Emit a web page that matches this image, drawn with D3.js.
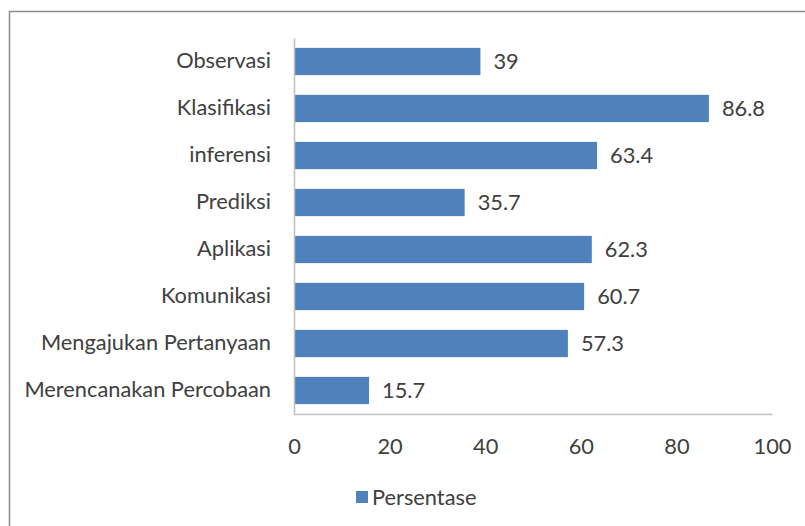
<!DOCTYPE html>
<html>
<head>
<meta charset="utf-8">
<script src="https://cdn.jsdelivr.net/npm/d3@7"></script>
<style>
  body { margin: 0; background: #fff; }
  text { font-family: Lato, "Open Sans", sans-serif; fill: #404040; }
</style>
</head>
<body>
<script>
// Data
var categories = ["Observasi", "Klasifikasi", "inferensi", "Prediksi", "Aplikasi",
  "Komunikasi", "Mengajukan Pertanyaan", "Merencanakan Percobaan"];
var persentase = [39, 86.8, 63.4, 35.7, 62.3, 60.7, 57.3, 15.7];
var xTicks = [0, 20, 40, 60, 80, 100];
var seriesName = "Persentase";

var svgWidth = 805;
var svgHeight = 526;
var fontSize = "21.8px";

var margin = { top: 38, right: 33, bottom: 112, left: 294 };
var chartWidth = svgWidth - margin.left - margin.right;
var chartHeight = svgHeight - margin.top - margin.bottom;

var svg = d3.select("body")
    .append("svg")
    .attr("width", svgWidth)
    .attr("height", svgHeight);

// outer frame (runs off the right and bottom edge)
svg.append("rect")
    .attr("x", 9.5)
    .attr("y", 11.5)
    .attr("width", svgWidth + 10)
    .attr("height", svgHeight + 10)
    .attr("fill", "none")
    .attr("stroke", "#8c8c8c")
    .attr("stroke-width", 1.5);

var chartGroup = svg.append("g")
    .attr("transform", `translate(${margin.left}, ${margin.top})`);

var xScale = d3.scaleLinear()
    .domain([0, 100])
    .range([0, chartWidth]);

var yScale = d3.scaleBand()
    .domain(categories)
    .range([0, chartHeight])
    .paddingInner(0.42)
    .paddingOuter(0.21);

// bars
chartGroup.selectAll(".bar")
    .data(persentase)
    .enter()
    .append("rect")
    .attr("class", "bar")
    .attr("x", 0)
    .attr("y", (d, i) => yScale(categories[i]))
    .attr("width", d => xScale(d))
    .attr("height", yScale.bandwidth())
    .attr("fill", "#4f81bd");

// value labels
chartGroup.selectAll(".value")
    .data(persentase)
    .enter()
    .append("text")
    .attr("class", "value")
    .attr("x", d => xScale(d) + 13)
    .attr("y", (d, i) => yScale(categories[i]) + yScale.bandwidth() / 2)
    .attr("dy", "0.35em")
    .style("font-size", fontSize)
    .text(d => d);

// bottom axis
var bottomAxis = d3.axisBottom(xScale)
    .tickValues(xTicks)
    .tickSize(0)
    .tickPadding(25);

var xAxisG = chartGroup.append("g")
    .attr("transform", `translate(0, ${chartHeight})`)
    .call(bottomAxis);
xAxisG.select(".domain").attr("stroke", "#bfbfbf").attr("stroke-width", 1.5);
xAxisG.selectAll("text").style("font-size", fontSize);

// left axis
var leftAxis = d3.axisLeft(yScale)
    .tickSize(0)
    .tickPadding(23);

var yAxisG = chartGroup.append("g").call(leftAxis);
yAxisG.select(".domain").attr("stroke", "#bfbfbf").attr("stroke-width", 1.5);
yAxisG.selectAll("text").style("font-size", fontSize);

// legend
var legend = svg.append("g")
    .attr("transform", "translate(356, 491)");
legend.append("rect")
    .attr("width", 12)
    .attr("height", 12)
    .attr("fill", "#4f81bd");
legend.append("text")
    .attr("x", 16)
    .attr("y", 6)
    .attr("dy", "0.35em")
    .style("font-size", fontSize)
    .text(seriesName);
</script>
</body>
</html>
